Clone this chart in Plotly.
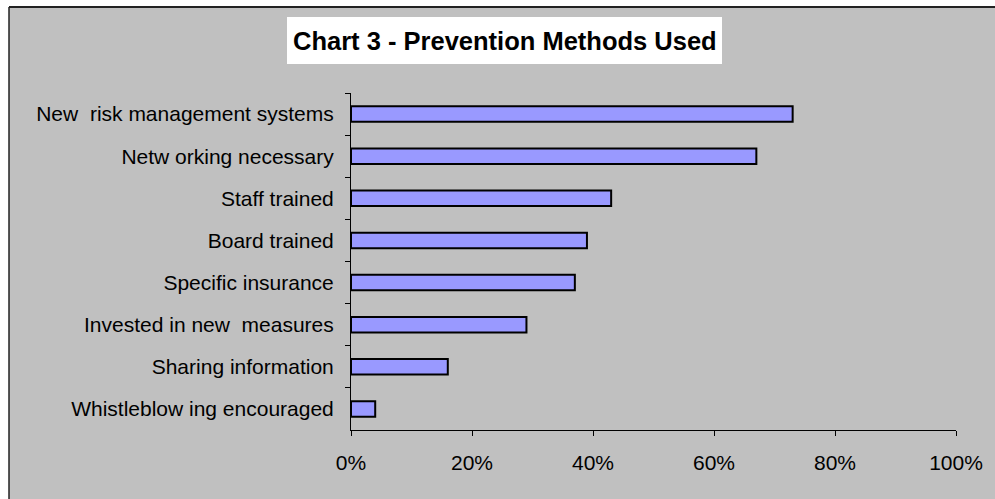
import plotly.graph_objects as go

categories = [
    "New  risk management systems",
    "Netw orking necessary",
    "Staff trained",
    "Board trained",
    "Specific insurance",
    "Invested in new  measures",
    "Sharing information",
    "Whistleblow ing encouraged",
]
values = [0.73, 0.67, 0.43, 0.39, 0.37, 0.29, 0.16, 0.04]
x_ticks = [0, 0.2, 0.4, 0.6, 0.8, 1.0]
x_tick_labels = ["0%", "20%", "40%", "60%", "80%", "100%"]
title_text = "Chart 3 - Prevention Methods Used"

W, H = 995, 499
L, R, T, B = 351, 39, 93, 69
PW, PH = W - L - R, H - T - B

def px_x(x):
    return (x - L) / PW

def px_y(y):
    return (H - B - y) / PH

FONT = "Liberation Sans, Arial, sans-serif"
GRAY = "#C0C0C0"

fig = go.Figure(go.Bar(
    x=values, y=categories, orientation="h",
    marker=dict(color="#9999FF", line=dict(color="black", width=2)),
    width=0.37,
))

shapes = [
    dict(type="rect", xref="paper", yref="paper", x0=px_x(0), x1=px_x(W), y0=px_y(7), y1=px_y(0),
         fillcolor="white", line=dict(width=0), layer="below"),
    dict(type="rect", xref="paper", yref="paper", x0=px_x(0), x1=px_x(9), y0=px_y(H), y1=px_y(0),
         fillcolor="white", line=dict(width=0), layer="below"),
    dict(type="line", xref="paper", yref="paper", x0=px_x(9), x1=px_x(W + 5), y0=px_y(7), y1=px_y(7),
         line=dict(color="#222222", width=2)),
    dict(type="line", xref="paper", yref="paper", x0=px_x(9), x1=px_x(9), y0=px_y(7), y1=px_y(H + 5),
         line=dict(color="#222222", width=1.5)),
    dict(type="rect", xref="paper", yref="paper", x0=px_x(287), x1=px_x(722), y0=px_y(64), y1=px_y(17),
         fillcolor="white", line=dict(width=0)),
]

fig.update_layout(
    width=W, height=H,
    margin=dict(l=L, r=R, t=T, b=B, pad=0),
    paper_bgcolor=GRAY,
    plot_bgcolor=GRAY,
    showlegend=False,
    shapes=shapes,
    font=dict(family=FONT, size=21, color="black"),
    annotations=[dict(
        text="<b>" + title_text + "</b>", xref="paper", yref="paper",
        x=px_x(504.5), y=px_y(41), xanchor="center", yanchor="middle",
        showarrow=False, font=dict(family=FONT, size=25.5, color="black"),
    )],
)

fig.update_xaxes(
    range=[0, 1], tickvals=x_ticks, ticktext=x_tick_labels,
    showgrid=False, zeroline=False,
    showline=True, linecolor="black", linewidth=1,
    ticks="outside", ticklen=5, tickcolor="black", tickwidth=1,
    ticklabelstandoff=9,
    tickfont=dict(family=FONT, size=21, color="black"),
    fixedrange=True,
)
fig.update_yaxes(
    categoryorder="array", categoryarray=categories, autorange="reversed",
    showgrid=False, zeroline=False,
    showline=True, linecolor="black", linewidth=1,
    ticks="outside", ticklen=5, tickcolor="black", tickwidth=1,
    tickson="boundaries",
    ticklabelstandoff=12,
    tickfont=dict(family=FONT, size=21, color="black"),
    fixedrange=True,
)

fig.write_html("out.html")
